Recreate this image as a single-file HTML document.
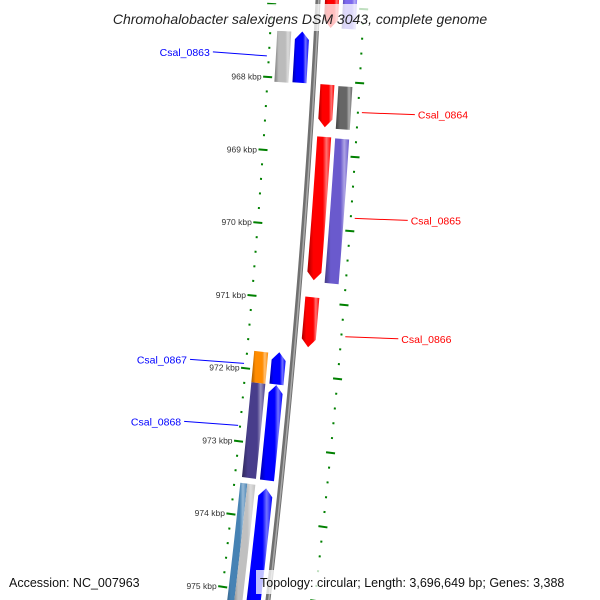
<!DOCTYPE html>
<html><head><meta charset="utf-8"><style>
html,body{margin:0;padding:0;background:#fff;overflow:hidden;}
svg{display:block;font-family:"Liberation Sans","DejaVu Sans",sans-serif;}
</style></head><body>
<svg id="map" width="600" height="600" viewBox="0 0 600 600" xmlns="http://www.w3.org/2000/svg">
<defs></defs>
<g id="ticks"></g>
<g id="back"></g>
<g id="feats"></g>
<g id="labels"></g>
<rect x="88" y="4" width="424" height="27" fill="#fff" opacity="0.75"/>
<text x="300" y="24" text-anchor="middle" font-size="14" font-style="italic" fill="#222">Chromohalobacter salexigens DSM 3043, complete genome</text>
<text x="9" y="587" font-size="12.5" fill="#111">Accession: NC_007963</text>
<rect x="256" y="570" width="340" height="24" fill="#fff" opacity="0.75"/>
<text x="260" y="587" font-size="12.5" fill="#111">Topology: circular; Length: 3,696,649 bp; Genes: 3,388</text>
</svg>
<script>
const geneNames=["g-top-red","g-top-purple","g-0863-gray","g-0863-blue","g-0864","g-0864b","g-0865","g-0865b","g-0866","g-0867","g-0867b","g-0868","g-0868b","g-974-blue","g-974-steel","g-974-gray"];
const geneStart=[966.7,966.7,967.36,967.35,968.05,968.06,968.76,968.77,970.94,971.73,971.75,972.18,972.18,973.59,973.56,973.56];
const geneEnd=[967.28,967.28,968.06,968.05,968.63,968.64,970.71,970.73,971.62,972.17,972.18,973.48,973.48,975.4,975.4,975.4];
const geneRing=[1,2,-2,-1,1,2,1,2,1,-1,-2,-2,-1,-1,-3,-4];
const geneColor=["#ff0000","#7b68ee","#bbbbbb","#0000ff","#ff0000","#666666","#ff0000","#6a5acd","#ff0000","#0000ff","#ff8c00","#483d8b","#0000ff","#0000ff","#4682b4","#c0c0c0"];
const geneArrow=[1,0,0,1,1,0,1,0,1,1,0,0,1,1,0,0];
const tickKbp=[968,969,970,971,972,973,974,975];
const labelNames=["Csal_0863","Csal_0864","Csal_0865","Csal_0866","Csal_0867","Csal_0868"];
const labelKbp=[967.71,968.4,969.83,971.43,971.93,972.78];
const labelSide=[-1,1,1,1,-1,-1];
const labelColor=["#0000ff","#ff0000","#ff0000","#ff0000","#0000ff","#0000ff"];

const NS="http://www.w3.org/2000/svg";
function el(t,a,p){const e=document.createElementNS(NS,t);for(const k in a)e.setAttribute(k,a[k]);p.appendChild(e);return e;}
function yb(k){return 80+(k-968)*73.4;}
function bx(y){return 318-0.05*y-5.56e-5*y*y;}
function pt(k,r){const y=yb(k);return [bx(y)+r, y+r*(5+0.015*y)/92];}
const ringR={1:[7,21],2:[25,39],"-1":[-21,-7],"-2":[-39,-25],"-3":[-40,-33],"-4":[-33,-25]};
const defs=document.querySelector('defs');
function lighten(c,f){const n=parseInt(c.slice(1),16);let r=n>>16,g=(n>>8)&255,b=n&255;
 const m=x=>Math.round(f>0?x+(255-x)*f:x*(1+f));return `rgb(${m(r)},${m(g)},${m(b)})`;}

const back=document.getElementById('back');
let d="";for(let k=966.5;k<=975.5;k+=0.05){const p=pt(k,0);d+=(d?"L":"M")+p[0].toFixed(2)+","+p[1].toFixed(2);}
const b1=el('path',{d:d,stroke:"#707070",'stroke-width':5,fill:"none"},back);


const b2=el('path',{d:d,stroke:"#aaa",'stroke-width':1.5,fill:"none",transform:"translate(0.8,0)"},back);



const tg=document.getElementById('ticks');
[-46,46].forEach(r=>{
 for(let k=966.6;k<=975.6;k+=0.2){
  const kk=Math.round(k*10)/10;
  const major=Math.abs(kk-Math.round(kk))<0.01;
  const a=pt(kk,r-(major?4.5:1)),b=pt(kk,r+(major?4.5:1));
  const t=el('line',{x1:a[0],y1:a[1],x2:b[0],y2:b[1],stroke:"#008000",'stroke-width':2},tg);
  
  
 }
});
tickKbp.forEach(k=>{
 const p=pt(k,-52);
 const t=el('text',{x:p[0],y:p[1]+3,'text-anchor':"end",'font-size':8.5,fill:"#333"},tg);
 t.textContent=k+" kbp";
 
 
});

const fg=document.getElementById('feats');
geneNames.forEach((n,i)=>{
 const [r0,r1]=ringR[geneRing[i]];const rm=(r0+r1)/2;
 let s=geneStart[i],e=geneEnd[i];
 const ah=0.11; const fwd=geneRing[i]>0;
 let s2=s,e2=e;
 if(geneArrow[i]){ if(fwd) e2=e-ah; else s2=s+ah; }
 const pts=[];
 for(let k=s2;k<=e2+1e-6;k+=(e2-s2)/20)pts.push(pt(k,r0));
 if(geneArrow[i]&&fwd)pts.push(pt(e,rm));
 for(let k=e2;k>=s2-1e-6;k-=(e2-s2)/20)pts.push(pt(k,r1));
 if(geneArrow[i]&&!fwd)pts.push(pt(s,rm));
 const gid="gr"+i;
 const lg=el('linearGradient',{id:gid,x1:"0",y1:"0",x2:"1",y2:"0"},defs);
 el('stop',{offset:"0",'stop-color':lighten(geneColor[i],-0.35)},lg);
 el('stop',{offset:"0.25",'stop-color':geneColor[i]},lg);
 el('stop',{offset:"0.65",'stop-color':geneColor[i]},lg);
 el('stop',{offset:"0.8",'stop-color':lighten(geneColor[i],0.45)},lg);
 el('stop',{offset:"1",'stop-color':geneColor[i]},lg);
 const p=el('polygon',{points:pts.map(q=>q[0].toFixed(2)+","+q[1].toFixed(2)).join(" "),fill:"url(#"+gid+")"},fg);
 
 
});

const lgp=document.getElementById('labels');
labelNames.forEach((n,i)=>{
 const side=labelSide[i];
 const a=pt(labelKbp[i],side*(side>0?46:44));
 const bxp=a[0]+side*(side>0?57:58), byp=a[1]+(side>0?2:-4);
 const ln=el('line',{x1:a[0]+side*4,y1:a[1],x2:bxp,y2:byp,stroke:labelColor[i],'stroke-width':1},lgp);
 
 
 const t=el('text',{x:bxp+side*3,y:byp+4,'text-anchor':side>0?"start":"end",'font-size':10.5,fill:labelColor[i]},lgp);
 t.textContent=n;
 
 
});
</script>
</body></html>
